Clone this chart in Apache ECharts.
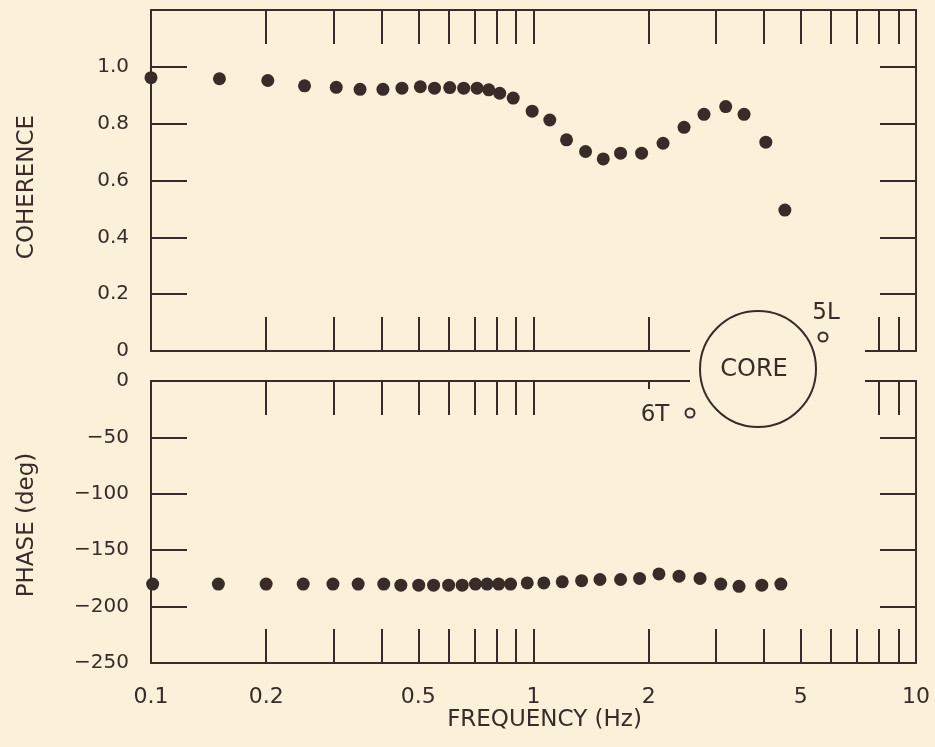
<!DOCTYPE html>
<html>
<head>
<meta charset="utf-8">
<script src="https://cdn.jsdelivr.net/npm/echarts@6/dist/echarts.min.js"></script>
<style>
  html, body { margin: 0; padding: 0; background: #fbf0d9; }
  #chart { width: 935px; height: 747px; }
</style>
</head>
<body>
<div id="chart"></div>
<script>
// Frequenzen (Hz) und Kohärenz
const cohFreq = [0.100, 0.151, 0.202, 0.252, 0.305, 0.352, 0.404, 0.453, 0.506, 0.551,
  0.604, 0.657, 0.712, 0.764, 0.816, 0.885, 0.992, 1.103, 1.220, 1.368,
  1.522, 1.689, 1.917, 2.181, 2.475, 2.791, 3.181, 3.552, 4.049, 4.541];
const coherence = [0.962, 0.958, 0.952, 0.933, 0.928, 0.921, 0.921, 0.925, 0.930, 0.925,
  0.927, 0.925, 0.925, 0.919, 0.907, 0.890, 0.844, 0.813, 0.743, 0.702,
  0.676, 0.696, 0.696, 0.731, 0.787, 0.833, 0.860, 0.833, 0.735, 0.496];

// Phase (deg)
const phaseFreq = [0.101, 0.150, 0.200, 0.250, 0.299, 0.348, 0.406, 0.450, 0.501, 0.548,
  0.600, 0.651, 0.705, 0.756, 0.811, 0.871, 0.963, 1.064, 1.189, 1.336,
  1.492, 1.689, 1.894, 2.128, 2.401, 2.725, 3.087, 3.446, 3.953, 4.433];
const phase = [-180, -180, -180, -180, -180, -180, -180, -181, -181, -181,
  -181, -181, -180, -180, -180, -180, -179, -179, -178, -177,
  -176, -176, -175, -171, -173, -175, -180, -182, -181, -180];

// Achsen-Ticks und Beschriftungen
const freqTicks = [0.2, 0.3, 0.4, 0.5, 0.6, 0.7, 0.8, 0.9, 1, 2, 3, 4, 5, 6, 7, 8, 9];
const freqTicksGap = [0.2, 0.3, 0.4, 0.5, 0.6, 0.7, 0.8, 0.9, 1, 2, 8, 9];
const freqLabels = [0.1, 0.2, 0.5, 1, 2, 5, 10];

const ink = '#3a2b29';
const paper = '#fbf0d9';
const font = 'DejaVu Sans';

const chart = echarts.init(document.getElementById('chart'));

function xAx(grid, pos, ticks, withLabels) {
  return {
    type: 'log', logBase: 10, gridIndex: grid, position: pos,
    min: 0.1, max: 10,
    axisLine: { show: true, onZero: false, lineStyle: { color: ink, width: 2 } },
    axisTick: { show: true, inside: true, length: 34, customValues: ticks.slice(),
      lineStyle: { color: ink, width: 2 } },
    axisLabel: withLabels ? {
      show: true, customValues: freqLabels.slice(), margin: 23,
      color: ink, fontFamily: font, fontSize: 22,
      formatter: v => String(+(+v).toPrecision(2))
    } : { show: false },
    splitLine: { show: false },
    name: withLabels ? 'FREQUENCY (Hz)' : '',
    nameLocation: 'middle', nameGap: 42,
    nameTextStyle: { color: ink, fontFamily: font, fontSize: 23, padding: [0, 0, 0, 22] }
  };
}

function yAx(grid, pos, min, max, step, name, fmt, pad) {
  return {
    type: 'value', gridIndex: grid, position: pos,
    min: min, max: max, interval: step,
    axisLine: { show: true, onZero: false, lineStyle: { color: ink, width: 2 } },
    axisTick: { show: true, inside: true, length: 36, lineStyle: { color: ink, width: 2 } },
    axisLabel: fmt ? { show: true, margin: 22, color: ink, fontFamily: font, fontSize: 20, formatter: fmt }
      : { show: false },
    splitLine: { show: false },
    name: name || '',
    nameLocation: 'middle', nameGap: 112, nameRotate: 90,
    nameTextStyle: { color: ink, fontFamily: font, fontSize: 23, padding: pad || 0 }
  };
}

const option = {
  backgroundColor: paper,
  animation: false,
  grid: [
    { left: 151, top: 10, width: 765, height: 341, outerBoundsMode: 'none' },
    { left: 151, top: 381, width: 765, height: 282, outerBoundsMode: 'none' }
  ],
  xAxis: [
    xAx(0, 'bottom', freqTicksGap, false),
    xAx(0, 'top', freqTicks, false),
    xAx(1, 'bottom', freqTicks, true),
    xAx(1, 'top', freqTicksGap, false)
  ],
  yAxis: [
    yAx(0, 'left', 0, 1.2, 0.2, 'COHERENCE',
      v => v === 0 ? '0' : (v > 1.1 ? '' : v.toFixed(1)), [0, 13, 0, 0]),
    yAx(0, 'right', 0, 1.2, 0.2),
    yAx(1, 'left', -250, 0, 50, 'PHASE (deg)',
      v => v === 0 ? '0' : '\u2212' + Math.abs(v), [0, 6, 0, 0]),
    yAx(1, 'right', -250, 0, 50)
  ],
  series: [
    {
      type: 'scatter', xAxisIndex: 0, yAxisIndex: 0,
      symbolSize: 13, itemStyle: { color: ink, opacity: 1 },
      emphasis: { disabled: true },
      data: cohFreq.map((f, i) => [f, coherence[i]])
    },
    {
      type: 'scatter', xAxisIndex: 2, yAxisIndex: 2,
      symbolSize: 13, itemStyle: { color: ink, opacity: 1 },
      emphasis: { disabled: true },
      data: phaseFreq.map((f, i) => [f, phase[i]])
    }
  ],
  graphic: [
    // Lücke im Rahmen für die Kern-Skizze
    { type: 'rect', z: 100, shape: { x: 690, y: 345, width: 175, height: 42 }, style: { fill: paper } },
    { type: 'rect', z: 100, shape: { x: 640, y: 389, width: 16, height: 28 }, style: { fill: paper } },
    { type: 'circle', z: 101, shape: { cx: 758, cy: 369, r: 58 },
      style: { fill: 'none', stroke: ink, lineWidth: 2 } },
    { type: 'text', z: 101, x: 754, y: 370,
      style: { text: 'CORE', fill: ink, font: '24px "DejaVu Sans"', textAlign: 'center', textVerticalAlign: 'middle' } },
    { type: 'circle', z: 101, shape: { cx: 823, cy: 337, r: 4.5 },
      style: { fill: 'none', stroke: ink, lineWidth: 2 } },
    { type: 'text', z: 101, x: 826, y: 313,
      style: { text: '5L', fill: ink, font: '23px "DejaVu Sans"', textAlign: 'center', textVerticalAlign: 'middle' } },
    { type: 'circle', z: 101, shape: { cx: 690, cy: 413, r: 4.5 },
      style: { fill: 'none', stroke: ink, lineWidth: 2 } },
    { type: 'text', z: 101, x: 655, y: 415,
      style: { text: '6T', fill: ink, font: '23px "DejaVu Sans"', textAlign: 'center', textVerticalAlign: 'middle' } }
  ]
};

chart.setOption(option);
</script>
</body>
</html>
